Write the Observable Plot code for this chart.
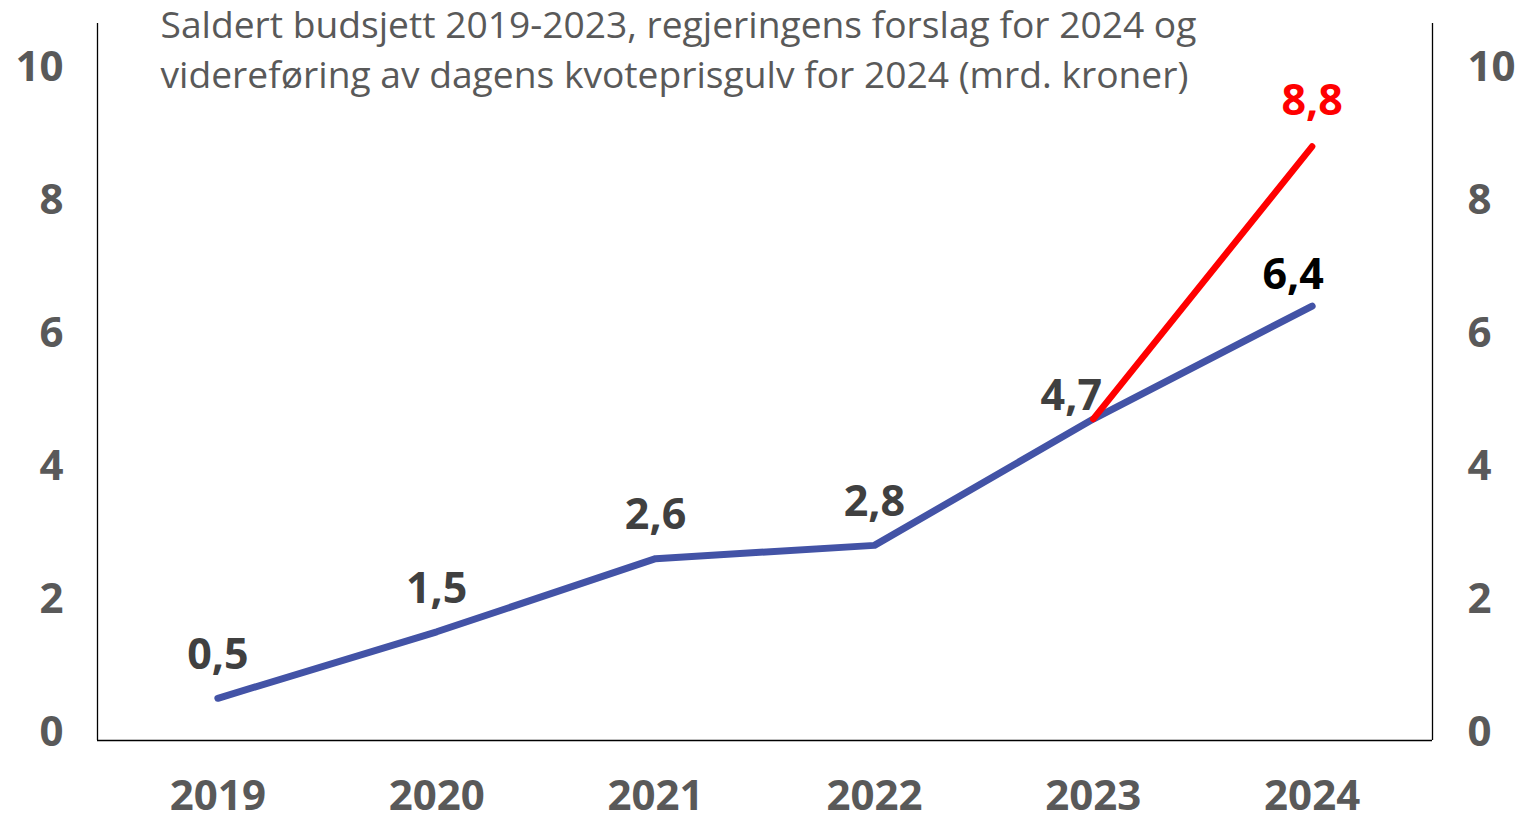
<!DOCTYPE html>
<html>
<head>
<meta charset="utf-8">
<script src="https://cdn.jsdelivr.net/npm/d3@7"></script>
<script src="https://cdn.jsdelivr.net/npm/@observablehq/plot@0.6"></script>
<style>
  html, body { margin: 0; padding: 0; background: #fff; }
</style>
</head>
<body>
<div id="chart"></div>
<script>
const years = [2019, 2020, 2021, 2022, 2023, 2024];
const budget = [0.5, 1.5, 2.6, 2.8, 4.7, 6.4];
const floorYears = [2023, 2024];
const floorValues = [4.7, 8.8];
const yTicks = [0, 2, 4, 6, 8, 10];
const titleLines = [
  "Saldert budsjett 2019-2023, regjeringens forslag for 2024 og",
  "videreføring av dagens kvoteprisgulv for 2024 (mrd. kroner)"
];

const budgetData = years.map((year, i) => ({year, value: budget[i]}));
const floorData = floorYears.map((year, i) => ({year, value: floorValues[i]}));
const fmt = v => v.toFixed(1).replace(".", ",");

const xPad = 0.55;
const xDomain = [years[0] - xPad, years[years.length - 1] + xPad];
const yDomain = [-0.135, 10.65];

const labelFont = {fontSize: 43, fontWeight: 700};
const tickFont = {fontSize: 42, fontWeight: 700, fill: "#595959"};

const chart = Plot.plot({
  width: 1516,
  height: 815,
  marginLeft: 97,
  marginRight: 84,
  marginTop: 23,
  marginBottom: 75,
  style: {fontFamily: "'Open Sans', sans-serif", background: "#fff"},
  x: {domain: xDomain, axis: null},
  y: {domain: yDomain, axis: null},
  marks: [
    Plot.ruleX(xDomain, {stroke: "#000", strokeWidth: 1.3}),
    Plot.ruleY([yDomain[0]], {stroke: "#000", strokeWidth: 1.3}),
    Plot.axisY(yTicks, {anchor: "left", label: null, tickSize: 0, tickPadding: 34, dy: 1, tickFormat: d => String(d), ...tickFont}),
    Plot.axisY(yTicks, {anchor: "right", label: null, tickSize: 0, tickPadding: 35, dy: 1, tickFormat: d => String(d), ...tickFont}),
    Plot.axisX(years, {anchor: "bottom", label: null, tickSize: 0, tickPadding: 40, tickFormat: d => String(d), ...tickFont}),
    Plot.text([titleLines.join("\n")], {
      frameAnchor: "top-left", textAnchor: "start", lineAnchor: "top",
      dx: 63, dy: -21, fontSize: 37.2, lineHeight: 1.35, fill: "#595959"
    }),
    Plot.line(budgetData, {x: "year", y: "value", stroke: "#4353A6", strokeWidth: 7, strokeLinecap: "round", strokeLinejoin: "round"}),
    Plot.line(floorData, {x: "year", y: "value", stroke: "#FF0000", strokeWidth: 6.5, strokeLinecap: "round", strokeLinejoin: "round"}),
    Plot.text(budgetData.slice(0, 4), {x: "year", y: "value", text: d => fmt(d.value), dy: -43, fill: "#404040", ...labelFont}),
    Plot.text(budgetData.slice(4, 5), {x: "year", y: "value", text: d => fmt(d.value), dx: -22, dy: -23, fill: "#404040", ...labelFont}),
    Plot.text(budgetData.slice(5, 6), {x: "year", y: "value", text: d => fmt(d.value), dx: -19, dy: -31, fill: "#000", ...labelFont}),
    Plot.text(floorData.slice(1), {x: "year", y: "value", text: d => fmt(d.value), dy: -45, fill: "#FF0000", ...labelFont})
  ]
});

document.getElementById("chart").appendChild(chart);
</script>
</body>
</html>
